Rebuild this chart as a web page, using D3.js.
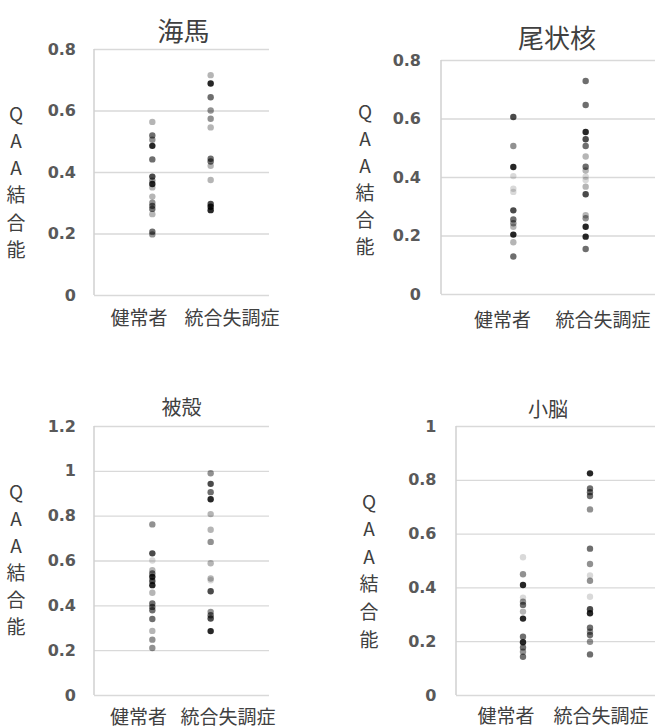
<!DOCTYPE html>
<html>
<head>
<meta charset="utf-8">
<script src="https://cdn.jsdelivr.net/npm/d3@7"></script>
<style>
  body { margin: 0; background: #fff; }
  svg { display: block; }
  .tick text { font-family: "DejaVu Sans", sans-serif; font-weight: bold; font-size: 16px; fill: #595959; }
  .tick line { stroke: #d9d9d9; stroke-width: 1.3; }
  .cjk { font-family: "Noto Sans CJK JP", sans-serif; fill: #404040; }
</style>
</head>
<body>
<div id="chart"></div>
<script>
var svgWidth = 655;
var svgHeight = 727;

// categories and titles
var categories = ["健常者", "統合失調症"];
var titles = ["海馬", "尾状核", "被殻", "小脳"];
var yLabel = ["Q", "A", "A", "結", "合", "能"];

// tick labels for each panel
var yTicks1 = [0, 0.2, 0.4, 0.6, 0.8];
var yTicks2 = [0, 0.2, 0.4, 0.6, 0.8];
var yTicks3 = [0, 0.2, 0.4, 0.6, 0.8, 1, 1.2];
var yTicks4 = [0, 0.2, 0.4, 0.6, 0.8, 1];

// values, tone = grey level of the marker (1 light .. 6 dark)
var hipHealthy = [0.563, 0.519, 0.505, 0.485, 0.441, 0.385, 0.372, 0.361, 0.350, 0.320, 0.300, 0.290, 0.280, 0.263, 0.206, 0.197];
var hipHealthyTone = [2, 4, 3, 6, 4, 5, 3, 6, 2, 2, 3, 4, 4, 2, 4, 3];
var hipPatient = [0.715, 0.688, 0.643, 0.600, 0.573, 0.545, 0.443, 0.434, 0.420, 0.374, 0.296, 0.287, 0.276];
var hipPatientTone = [2, 6, 4, 3, 3, 2, 4, 4, 2, 2, 5, 6, 6];

var caudHealthy = [0.605, 0.506, 0.434, 0.403, 0.360, 0.349, 0.286, 0.255, 0.242, 0.230, 0.203, 0.177, 0.128];
var caudHealthyTone = [5, 3, 6, 1, 1, 1, 5, 4, 3, 2, 6, 2, 4];
var caudPatient = [0.728, 0.646, 0.554, 0.529, 0.506, 0.470, 0.435, 0.422, 0.401, 0.390, 0.367, 0.341, 0.269, 0.259, 0.230, 0.196, 0.154];
var caudPatientTone = [4, 4, 6, 5, 4, 2, 4, 2, 1, 1, 2, 5, 2, 3, 6, 6, 4];

var putHealthy = [0.761, 0.632, 0.600, 0.557, 0.542, 0.527, 0.509, 0.490, 0.456, 0.408, 0.393, 0.378, 0.339, 0.286, 0.247, 0.210];
var putHealthyTone = [3, 5, 1, 2, 4, 6, 5, 6, 2, 4, 4, 4, 4, 2, 3, 3];
var putPatient = [0.989, 0.942, 0.905, 0.873, 0.807, 0.737, 0.683, 0.588, 0.520, 0.512, 0.463, 0.371, 0.356, 0.341, 0.285];
var putPatientTone = [3, 5, 4, 6, 2, 2, 3, 2, 2, 1, 5, 3, 4, 5, 6];

var cereHealthy = [0.512, 0.449, 0.409, 0.362, 0.347, 0.335, 0.310, 0.284, 0.217, 0.196, 0.177, 0.161, 0.142];
var cereHealthyTone = [1, 3, 6, 1, 3, 4, 2, 6, 4, 6, 4, 3, 4];
var cerePatient = [0.824, 0.768, 0.754, 0.740, 0.690, 0.544, 0.487, 0.444, 0.425, 0.365, 0.319, 0.304, 0.250, 0.235, 0.223, 0.198, 0.151];
var cerePatientTone = [6, 4, 4, 4, 3, 4, 3, 1, 3, 1, 5, 6, 4, 3, 4, 3, 4];

// panel layout (pixels)
var panels = [
  { title: titles[0], ticks: yTicks1, series: [[hipHealthy, hipHealthyTone], [hipPatient, hipPatientTone]],
    left: 94, right: 269, top: 49, bottom: 295, pad: 18, labelX: 16, labelY: 112, labelStep: 27.3,
    titleX: 183.5, titleY: 29, titleSize: 26, catX: [139, 232], catY: 316.5 },
  { title: titles[1], ticks: yTicks2, series: [[caudHealthy, caudHealthyTone], [caudPatient, caudPatientTone]],
    left: 441, right: 658, top: 60, bottom: 294, pad: 20, labelX: 365, labelY: 110, labelStep: 27,
    titleX: 557, titleY: 36.5, titleSize: 26, catX: [502.5, 603], catY: 318 },
  { title: titles[2], ticks: yTicks3, series: [[putHealthy, putHealthyTone], [putPatient, putPatientTone]],
    left: 94, right: 269, top: 426, bottom: 695, pad: 18, labelX: 16, labelY: 490, labelStep: 27,
    titleX: 181.5, titleY: 406.5, titleSize: 20, catX: [138.5, 228], catY: 715 },
  { title: titles[3], ticks: yTicks4, series: [[cereHealthy, cereHealthyTone], [cerePatient, cerePatientTone]],
    left: 456, right: 657, top: 426, bottom: 695, pad: 19.5, labelX: 369, labelY: 500, labelStep: 27.6,
    titleX: 548, titleY: 408, titleSize: 20, catX: [506, 601], catY: 714 }
];

var svg = d3.select("#chart")
    .append("svg")
    .attr("width", svgWidth)
    .attr("height", svgHeight);

var toneScale = d3.scaleLinear().domain([1, 6]).range([0.15, 0.85]);

panels.forEach(function(p) {
  var yMax = d3.max(p.ticks);

  var xScale = d3.scaleLinear()
    .domain([0, 3])
    .range([p.left, p.right]);

  var yScale = d3.scaleLinear()
    .domain([0, yMax])
    .range([p.bottom, p.top]);

  var g = svg.append("g");

  // gridlines + tick labels
  var leftAxis = d3.axisLeft(yScale)
    .tickValues(p.ticks)
    .tickSize(-(p.right - p.left))
    .tickPadding(p.pad)
    .tickFormat(d => String(+d.toFixed(1)));

  g.append("g")
    .attr("transform", `translate(${p.left}, 0)`)
    .call(leftAxis)
    .call(a => a.select(".domain").remove());

  // left axis line
  g.append("line")
    .attr("x1", p.left).attr("x2", p.left)
    .attr("y1", yScale(yMax)).attr("y2", yScale(0))
    .attr("stroke", "#d0d0d0")
    .attr("stroke-width", 1.5);

  // points
  p.series.forEach(function(s, i) {
    var pts = s[0].map((v, j) => ({ v: v, t: s[1][j] }));
    g.selectAll(null)
      .data(pts)
      .enter()
      .append("circle")
      .attr("cx", xScale(i + 1))
      .attr("cy", d => yScale(d.v))
      .attr("r", 3.2)
      .attr("fill", "#000")
      .attr("fill-opacity", d => toneScale(d.t));
  });

  // title
  g.append("text")
    .attr("class", "cjk")
    .attr("x", p.titleX)
    .attr("y", p.titleY)
    .attr("text-anchor", "middle")
    .attr("dominant-baseline", "central")
    .attr("font-size", p.titleSize + "px")
    .text(p.title);

  // category labels
  g.selectAll(null)
    .data(categories)
    .enter()
    .append("text")
    .attr("class", "cjk")
    .attr("x", (d, i) => p.catX[i])
    .attr("y", p.catY)
    .attr("text-anchor", "middle")
    .attr("dominant-baseline", "central")
    .attr("font-size", "19px")
    .text(d => d);

  // stacked y label
  g.selectAll(null)
    .data(yLabel)
    .enter()
    .append("text")
    .attr("class", "cjk")
    .attr("x", p.labelX)
    .attr("y", (d, i) => p.labelY + i * p.labelStep)
    .attr("text-anchor", "middle")
    .attr("dominant-baseline", "central")
    .attr("font-size", "19px")
    .text(d => d);
});
</script>
</body>
</html>
